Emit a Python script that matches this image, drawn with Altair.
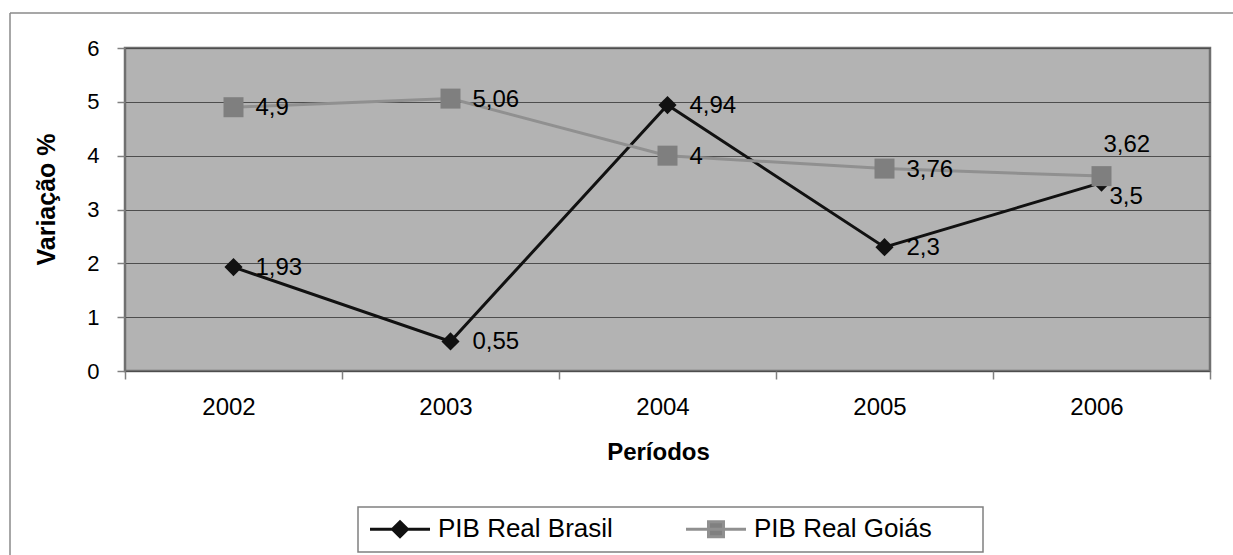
import altair as alt
import pandas as pd

# Valores do gráfico
anos = ["2002", "2003", "2004", "2005", "2006"]
pib_brasil = [1.93, 0.55, 4.94, 2.3, 3.5]
pib_goias = [4.9, 5.06, 4.0, 3.76, 3.62]
series = ["PIB Real Brasil", "PIB Real Goiás"]
y_ticks = [0, 1, 2, 3, 4, 5, 6]

FONT = "Liberation Sans"

df = pd.DataFrame({
    "ano": anos * 2,
    "serie": [series[0]] * len(anos) + [series[1]] * len(anos),
    "valor": pib_brasil + pib_goias,
})

base = alt.Chart(df).transform_calculate(
    rotulo="replace(toString(datum.valor), '.', ',')"
)

x = alt.X(
    "ano:O",
    scale=alt.Scale(type="band", paddingInner=0, paddingOuter=0),
    axis=alt.Axis(
        title="Períodos", titleFont=FONT, titleFontSize=24, titleFontWeight="bold",
        titleColor="#000000", titleX=533, titleY=81, titleBaseline="middle",
        labelAngle=0, labelFont=FONT, labelFontSize=24, labelColor="#000000",
        labelBaseline="middle", labelPadding=28, labelOffset=-5,
        tickBand="extent", tickSize=8, tickColor="#808080", tickWidth=1.5,
        domain=False, grid=False,
    ),
)
y = alt.Y(
    "valor:Q",
    scale=alt.Scale(domain=[0, 6], nice=False, zero=True),
    axis=alt.Axis(
        values=y_ticks, title="Variação %", titleFont=FONT, titleFontSize=25,
        titleFontWeight="bold", titleColor="#000000", titleX=-79, titleY=151,
        titleAngle=270, titleBaseline="middle", titleAlign="center",
        labelFont=FONT, labelFontSize=22, labelColor="#000000", labelPadding=18,
        tickSize=8, tickColor="#808080", tickWidth=1.5,
        domain=False, grid=True, gridColor="#4d4d4d", gridWidth=1,
    ),
)


def camadas_serie(nome, cor_linha, cor_marca, forma, tamanho):
    s = base.transform_filter(alt.datum.serie == nome)
    linha = s.mark_line(color=cor_linha, strokeWidth=3).encode(x=x, y=y)
    marca = s.mark_point(
        shape=forma, filled=True, size=tamanho, color=cor_marca, opacity=1
    ).encode(x=x, y=y)
    return [linha, marca]


camadas = []
camadas += camadas_serie(series[0], "#111111", "#111111", "diamond", 330)
camadas += camadas_serie(series[1], "#909090", "#7f7f7f", "square", 400)

texto = dict(align="left", baseline="middle", font=FONT, fontSize=24, color="#000000")

rotulos = base.transform_filter(alt.datum.ano != "2006").mark_text(
    dx=22, dy=1, **texto
).encode(x=x, y=y, text="rotulo:N")
rotulo_goias_2006 = base.transform_filter(
    (alt.datum.ano == "2006") & (alt.datum.serie == series[1])
).mark_text(dx=2, dy=-31, **texto).encode(x=x, y=y, text="rotulo:N")
rotulo_brasil_2006 = base.transform_filter(
    (alt.datum.ano == "2006") & (alt.datum.serie == series[0])
).mark_text(dx=8, dy=14, **texto).encode(x=x, y=y, text="rotulo:N")

# Símbolos da legenda: linha com marcador no centro
simbolo_losango = "M-1,0H5M2,-0.75L2.75,0L2,0.75L1.25,0Z"
simbolo_quadrado = "M-1,0H5M1.25,-0.75H2.75V0.75H1.25Z"

# Título em branco à direita apenas reserva espaço no quadro da legenda
leg = alt.Legend(title=" ", titleOrient="right", titlePadding=42, titleFontSize=10)

legenda = alt.Chart(df).transform_filter("false").mark_point(
    filled=True, opacity=1
).encode(
    fill=alt.Fill("serie:N", scale=alt.Scale(domain=series, range=["#111111", "#808080"]), legend=leg),
    stroke=alt.Stroke("serie:N", scale=alt.Scale(domain=series, range=["#111111", "#909090"]), legend=leg),
    shape=alt.Shape("serie:N", scale=alt.Scale(domain=series, range=[simbolo_losango, simbolo_quadrado]), legend=leg),
)

# Moldura externa do gráfico
moldura = pd.DataFrame({"m": [0]})
borda_topo = alt.Chart(moldura).mark_rule(color="#8a8a8a", strokeWidth=1.5).encode(
    x=alt.value(-115), x2=alt.value(1120), y=alt.value(-35)
)
borda_esq = alt.Chart(moldura).mark_rule(color="#8a8a8a", strokeWidth=1.5).encode(
    x=alt.value(-115), y=alt.value(-35), y2=alt.value(520)
)

chart = alt.layer(
    borda_topo, borda_esq, *camadas, rotulos, rotulo_goias_2006, rotulo_brasil_2006, legenda
).properties(
    width=1085, height=323,
    autosize=alt.AutoSizeParams(type="none"),
    padding={"left": 125, "top": 48, "right": 23, "bottom": 184},
    background="#ffffff",
    view=alt.ViewBackground(fill="#b3b3b3", stroke="#707070", strokeWidth=2.5),
).configure_view(
    fill="#b3b3b3", stroke="#707070", strokeWidth=2.5
).configure_legend(
    orient="none", legendX=233, legendY=459, direction="horizontal",
    strokeColor="#808080", strokeWidth=1.5, fillColor="#ffffff", padding=9,
    labelFont=FONT, labelFontSize=26, labelColor="#000000", labelOffset=45,
    symbolSize=400, symbolStrokeWidth=3, columnPadding=67, labelLimit=400,
)

chart.save("out.html", embed_options={"renderer": "svg", "actions": False})
